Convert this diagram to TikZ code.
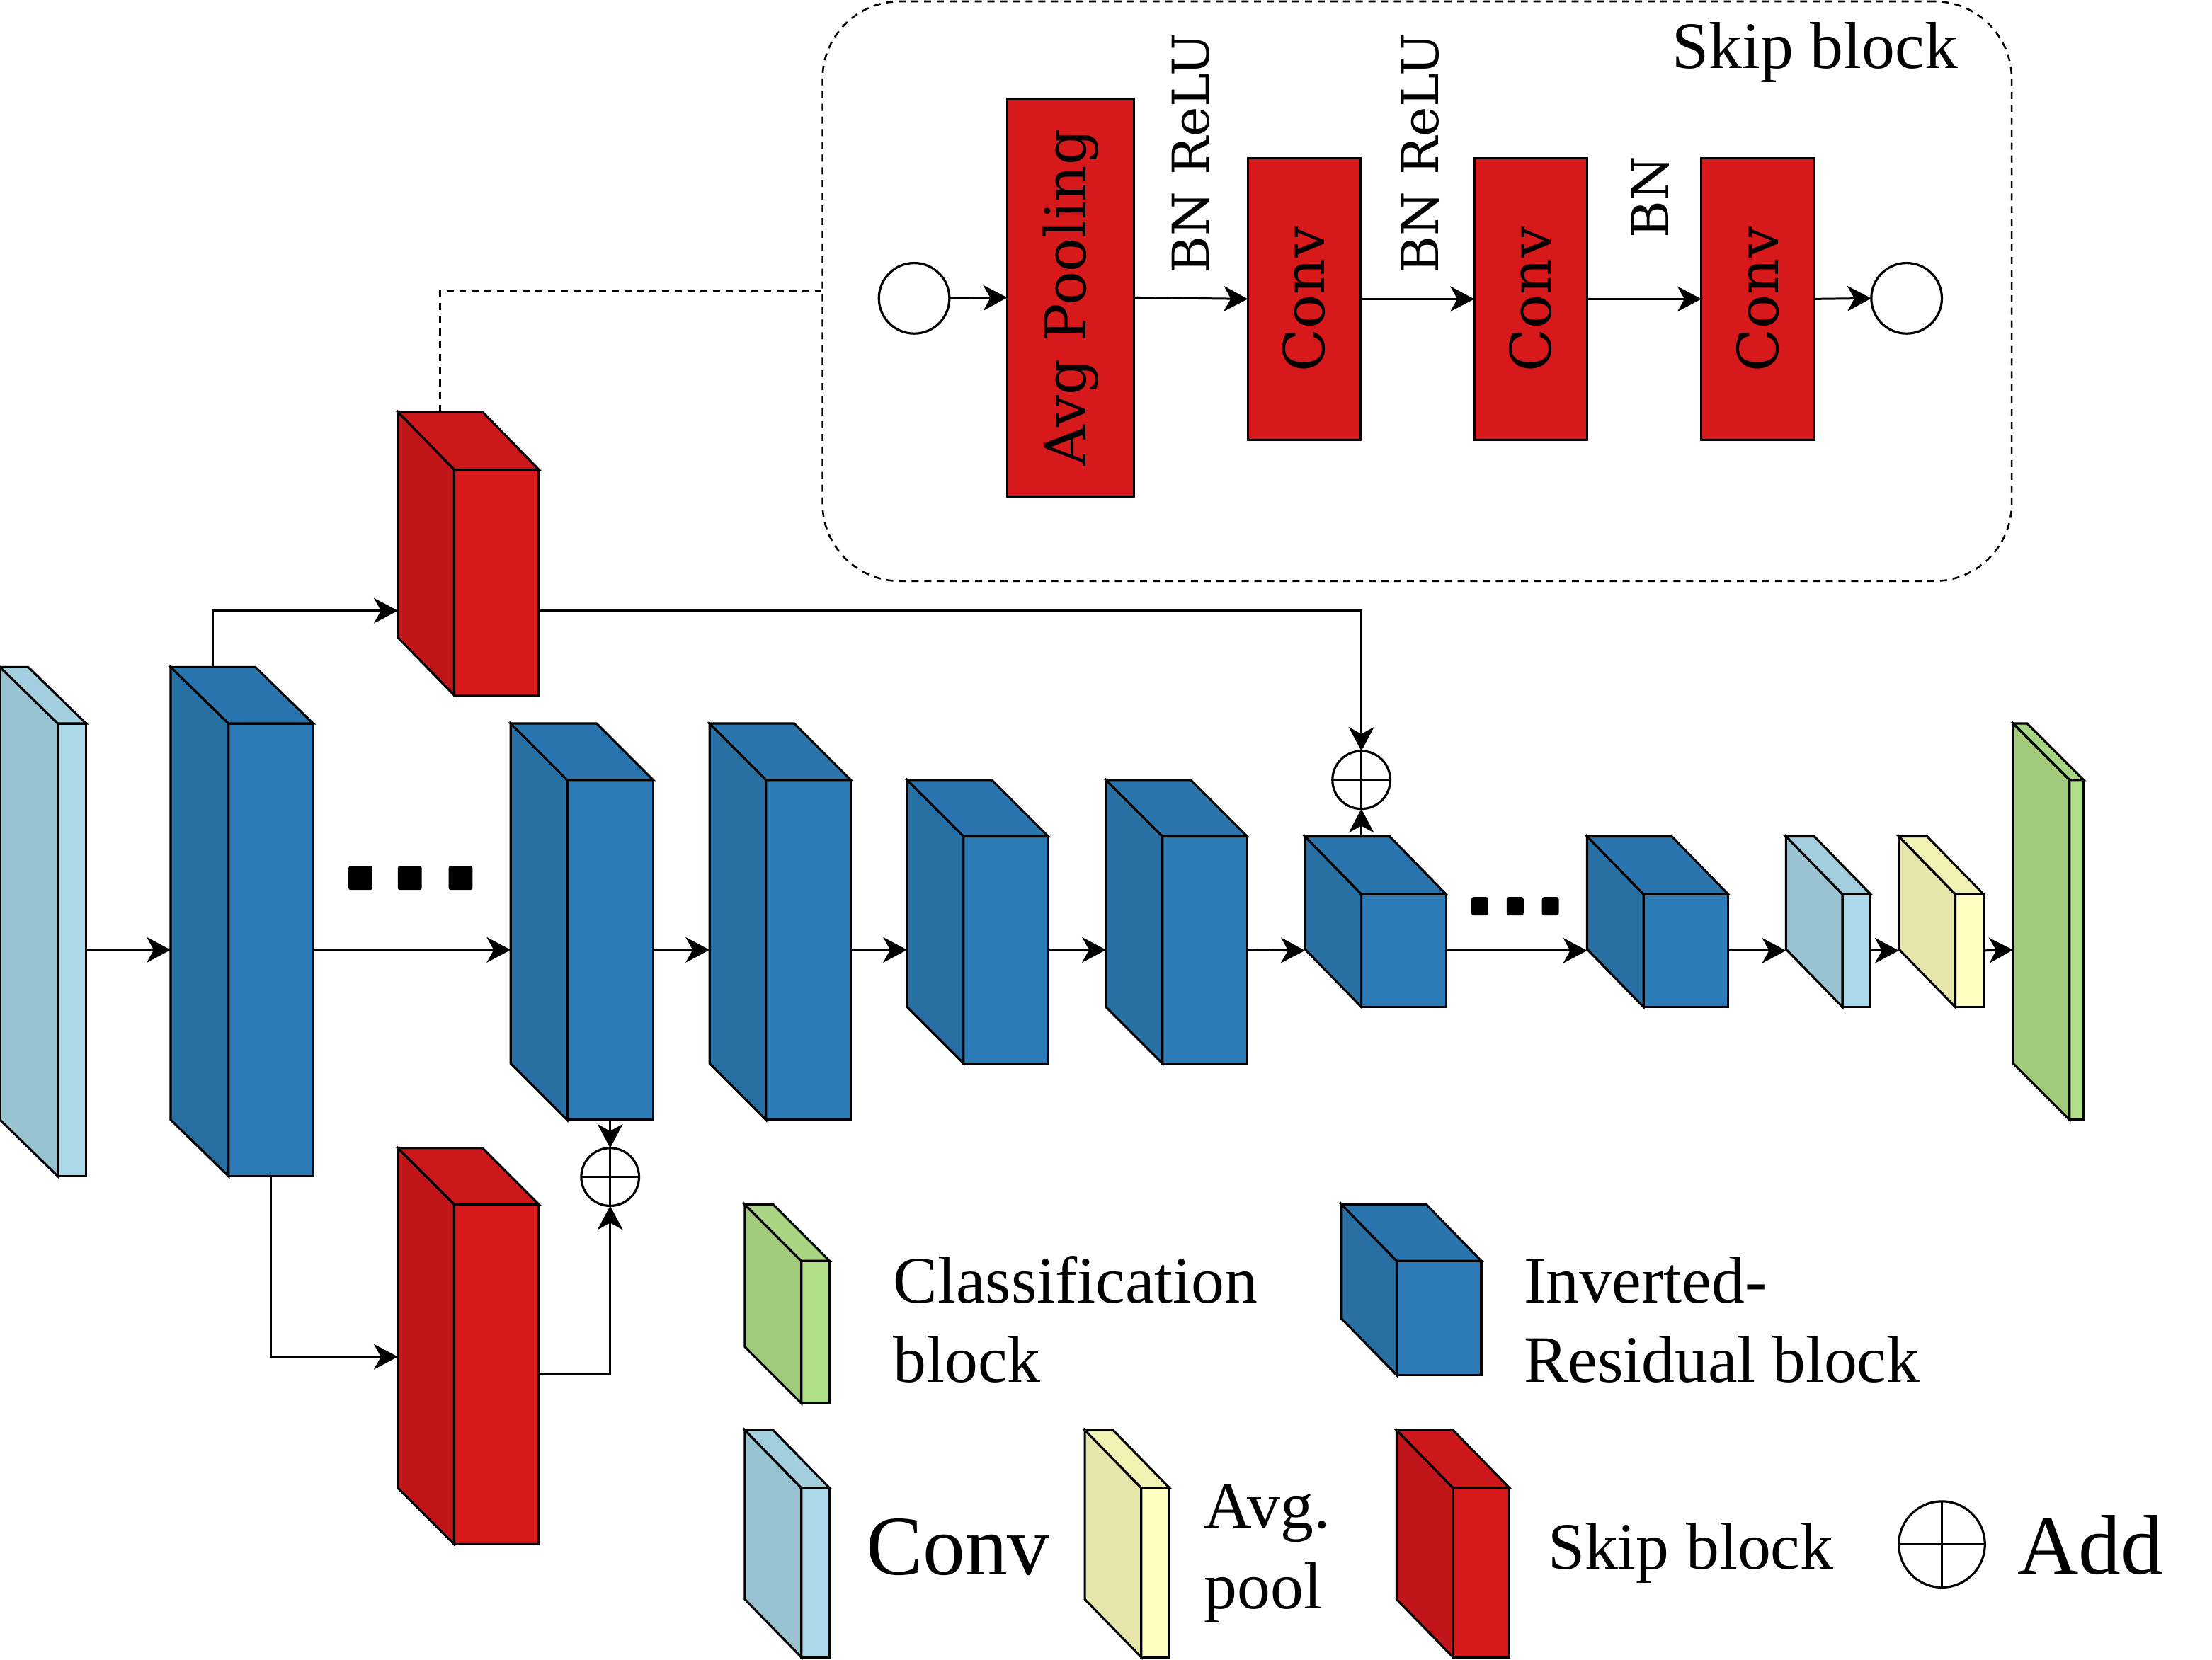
\documentclass[tikz,border=0pt]{standalone}
\usepackage{fontspec}
\setmainfont{Liberation Serif}
\newfontfamily\dvs{DejaVu Serif}
\usetikzlibrary{arrows.meta}
\definecolor{irF}{HTML}{2C7BB6}
\definecolor{rdF}{HTML}{D7191C}
\definecolor{lbF}{HTML}{ABD9E9}
\definecolor{ylF}{HTML}{FFFFBF}
\definecolor{grF}{HTML}{B2DF8A}
\tikzset{
 face/.style={draw, line width=1.6pt, inner sep=0pt, outer sep=0pt},
 fedge/.style={line width=1.6pt},
 arr/.style={-{Stealth[length=17pt,width=18pt,inset=5pt]}, line width=1.5pt},
 addc/.style={circle, draw, line width=1.6pt, inner sep=0pt, outer sep=0pt, minimum size=#1,
   path picture={\draw[line width=1.6pt] (path picture bounding box.north) -- (path picture bounding box.south)
   (path picture bounding box.west) -- (path picture bounding box.east);}},
 redbox/.style={draw, fill=rdF, line width=1.6pt, inner sep=0pt, outer sep=0pt},
 ring/.style={circle, draw, line width=1.6pt, fill=white, minimum size=50pt, inner sep=0pt, outer sep=0pt},
 dbox/.style={draw, dash pattern=on 5pt off 4pt, line width=1.3pt, rounded corners=55pt, inner sep=0pt},
 dline/.style={dash pattern=on 5pt off 4pt, line width=1.3pt},
 lbl/.style={font=\fontsize{47}{56}\selectfont, align=left, inner sep=0pt, anchor=base west},
 big/.style={font=\fontsize{60}{72}\selectfont, inner sep=0pt, anchor=base west},
 inlbl/.style={font=\dvs\fontsize{40}{48}\selectfont, rotate=90, inner sep=0pt},
 bnlbl/.style={font=\dvs\fontsize{36}{43}\selectfont, rotate=90, inner sep=0pt, anchor=base west},
}
% name, x1, y1, w, h, dx, dy, colour
\newcommand\blk[8]{%
  \node[face, fill=#8, minimum width=#4pt, minimum height=#5pt] (#1) at ({#2+#4/2},{#3+#5/2}) {};
  \filldraw[fill=#8!90!black, fedge] (#1.north west) -- ++(-#6,-#7) -- ++(0,#5) -- (#1.south west) -- cycle;
  \filldraw[fill=#8!95!black, fedge] (#1.north west) -- ++(-#6,-#7) -- ++(#4,0) -- (#1.north east) -- cycle;
  \coordinate (#1-in) at ([xshift=-#6pt]#1.west);
  \coordinate (#1-top) at ([xshift=-#6pt,yshift=#7pt]#1.north);
}
\begin{document}
\begin{tikzpicture}[x=1pt,y=-1pt]
\useasboundingbox (0,0) rectangle (1568,1177);

% ---------- skip block detail ----------
\node[dbox, minimum width=843pt, minimum height=411pt] (skipbox) at (1004.5,206.5) {};
\node[anchor=base east, inner sep=0pt, font=\fontsize{47}{56}\selectfont] (skiptitle) at (1388,48.4) {Skip block};
\node[ring] (c1) at (648,211.5) {};
\node[redbox, minimum width=90pt, minimum height=282pt] (avg) at (759,211) {};
\node[inlbl] (avgt) at (avg.center) {Avg Pooling};
\node[redbox, minimum width=80pt, minimum height=200pt] (cv1) at (924.5,212) {};
\node[inlbl] (cv1t) at (cv1.center) {Conv};
\node[redbox, minimum width=80pt, minimum height=200pt] (cv2) at (1085,212) {};
\node[inlbl] (cv2t) at (cv2.center) {Conv};
\node[redbox, minimum width=80pt, minimum height=200pt] (cv3) at (1246,212) {};
\node[inlbl] (cv3t) at (cv3.center) {Conv};
\node[ring] (c2) at (1351.5,211.5) {};
\draw[arr] (c1.east) -- (avg.west);
\draw[arr] (avg.east) -- (cv1.west);
\draw[arr] (cv1.east) -- (cv2.west);
\draw[arr] (cv2.east) -- (cv3.west);
\draw[arr] (cv3.east) -- (c2.west);
\node[bnlbl] (bn1) at (857,194) {BN ReLU};
\node[bnlbl] (bn2) at (1019.6,194) {BN ReLU};
\node[bnlbl] (bn3) at (1183,169) {BN};

% ---------- main network ----------
\blk{in}{41}{513}{20}{321}{41}{40}{lbF}
\blk{b1}{162}{513}{60}{321}{41}{40}{irF}
\blk{b2}{402}{553}{61}{241}{40}{40}{irF}
\blk{b3}{543}{553}{60}{241}{40}{40}{irF}
\blk{b4}{683}{593}{60}{161}{40}{40}{irF}
\blk{b5}{824}{593}{60}{161}{40}{40}{irF}
\blk{b6}{965}{634}{60}{80}{40}{41}{irF}
\blk{b7}{1165}{634}{60}{80}{40}{41}{irF}
\blk{cv}{1306}{634}{20}{80}{40}{41}{lbF}
\blk{ap}{1386}{634}{20}{80}{40}{41}{ylF}
\blk{cl}{1467}{553}{10}{241}{40}{40}{grF}
\blk{sk1}{322}{333}{60}{160}{40}{41}{rdF}
\blk{sk2}{322}{854}{60}{241}{40}{40}{rdF}

\node[addc=41pt] (add1) at (965,553) {};
\node[addc=41pt] (add2) at (432.5,834.5) {};

% ellipses
\foreach \x in {247,282,318} \fill[rounded corners=1.5pt] (\x,614) rectangle ++(17,17);
\foreach \x in {1043,1068,1093} \fill[rounded corners=1.5pt] (\x,636) rectangle ++(12,13);

\draw[arr] (in.east) -- (b1-in);
\draw[arr] (b1.east) -- (b2-in);
\draw[arr] (b2.east) -- (b3-in);
\draw[arr] (b3.east) -- (b4-in);
\draw[arr] (b4.east) -- (b5-in);
\draw[arr] (b5.east) -- (b6-in);
\draw[arr] (b6.east) -- (b7-in);
\draw[arr] (b7.east) -- (cv-in);
\draw[arr] (cv.east) -- (ap-in);
\draw[arr] (ap.east) -- (cl-in);

\draw[arr] (b1-top) |- ([yshift=-20pt]sk1-in);
\draw[arr] ([yshift=-20pt]sk1.east) -| (add1.north);
\draw[arr] (add1 |- b6-top) -- (add1.south);
\draw[arr] (b1.south) |- ([yshift=12.5pt]sk2-in);
\draw[arr] (sk2.east) -| (add2.south);
\draw[arr] (b2.south) -- (add2.north);
\draw[dline] (sk1-top) |- (skipbox.west);

% ---------- legend ----------
\blk{lg1}{568}{894}{20}{101}{40}{40}{grF}
\blk{lg2}{990}{894}{60}{81}{39}{40}{irF}
\blk{lg3}{568}{1055}{20}{120}{40}{41}{lbF}
\blk{lg4}{809}{1055}{20}{120}{40}{41}{ylF}
\blk{lg5}{1030}{1055}{40}{120}{40}{41}{rdF}
\node[addc=61pt] (lg6) at (1376.5,1095) {};

\node[lbl] (t1) at (633,980) {Classification\\block};
\node[lbl] (t2) at (1080,980) {Inverted-\\Residual block};
\node[big] (t3) at (614,1116.6) {Conv};
\node[lbl, font=\fontsize{47}{57}\selectfont] (t4) at (853.5,1140.6) {Avg.\\pool};
\node[lbl] (t5) at (1097,1112.4) {Skip block};
\node[big] (t6) at (1430,1116) {Add};
\end{tikzpicture}
\end{document}
